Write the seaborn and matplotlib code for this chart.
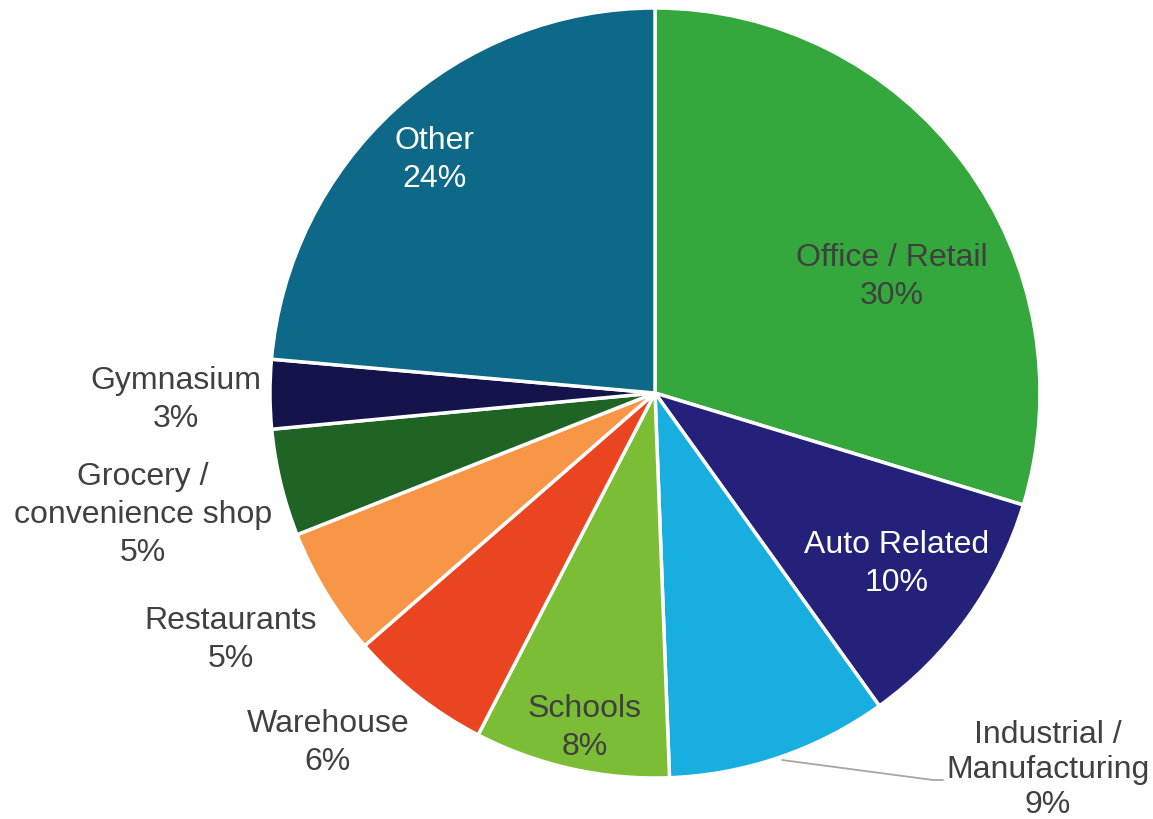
import matplotlib
matplotlib.use("Agg")
import matplotlib.pyplot as plt
import seaborn as sns

sns.set_theme(style="white")
plt.rcParams["font.family"] = ["Liberation Sans", "DejaVu Sans"]

categories = ["Office / Retail", "Auto Related", "Industrial /\nManufacturing", "Schools",
              "Warehouse", "Restaurants", "Grocery /\nconvenience shop", "Gymnasium", "Other"]
shares = [29.7, 10.4, 9.3, 8.2, 6.0, 5.4, 4.5, 2.9, 23.6]
pct_labels = ["30%", "10%", "9%", "8%", "6%", "5%", "5%", "3%", "24%"]
colors = ["#35A83D", "#23217A", "#18AEE0", "#7BBD35", "#EA4520",
          "#F79646", "#1F6424", "#14144A", "#0E6887"]
text_colors = ["#404040", "white", "#404040", "#404040", "#404040",
               "#404040", "#404040", "#404040", "white"]

# label anchor positions in pixel space (layout)
label_xy = [(892, 277), (897, 564), (1048, 770), (585, 728), (328, 743),
            (231, 640), (143, 515), (176, 400), (435, 160)]

W, H = 1153, 819
fig = plt.figure(figsize=(W / 100, H / 100), dpi=100)
ax = fig.add_axes([0, 0, 1, 1])

cx, cy, r = 655, 393, 385
wedges, _ = ax.pie(shares, colors=colors, startangle=90, counterclock=False,
                   center=(cx, -cy), radius=r,
                   wedgeprops=dict(edgecolor="white", linewidth=2.5))
# figure pixels map 1:1 onto data units
ax.set_aspect("auto")
ax.set_xlim(0, W)
ax.set_ylim(-H, 0)
ax.axis("off")

for name, pct, (x, y), tc in zip(categories, pct_labels, label_xy, text_colors):
    ls = 1.2 if "Manufacturing" in name else 1.33
    ax.text(x, -y, f"{name}\n{pct}", ha="center", va="center", fontsize=23,
            color=tc, linespacing=ls)

# leader line for Industrial / Manufacturing
ax.plot([782, 933, 943], [-760, -780, -780], color="#A6A6A6", lw=1.3)

fig.savefig("out.png", dpi=100)
